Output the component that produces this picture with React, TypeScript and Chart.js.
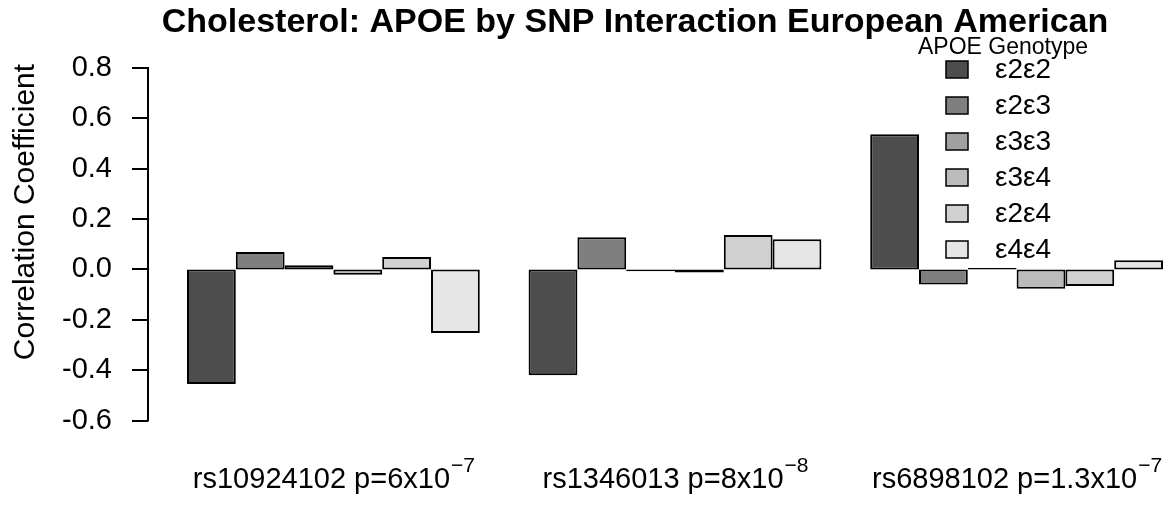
import { useEffect, useRef } from "react";
import { Chart, registerables } from "chart.js";

Chart.register(...registerables);

// SNPs on the x axis, with the exponent of each p-value kept apart so it can be set as a superscript
const snpLabels = ["rs10924102 p=6x10", "rs1346013 p=8x10", "rs6898102 p=1.3x10"];
const pExponents = ["\u22127", "\u22128", "\u22127"];

// APOE genotypes (one bar series each)
const genotypes = ["ε2ε2", "ε2ε3", "ε3ε3", "ε3ε4", "ε2ε4", "ε4ε4"];

// Correlation coefficient per SNP for each genotype
const e2e2 = [-0.455, -0.42, 0.537];
const e2e3 = [0.069, 0.128, -0.06];
const e3e3 = [0.017, -0.007, 0.006];
const e3e4 = [-0.021, -0.012, -0.077];
const e2e4 = [0.049, 0.137, -0.066];
const e4e4 = [-0.252, 0.12, 0.036];

const yTicks = [-0.6, -0.4, -0.2, 0.0, 0.2, 0.4, 0.6, 0.8];

const grays = ["#4D4D4D", "#7F7F7F", "#A0A0A0", "#BBBBBB", "#D1D1D1", "#E6E6E6"];

const FONT = "'Liberation Sans', Arial, Helvetica, sans-serif";
const TITLE = "Cholesterol: APOE by SNP Interaction European American";
const Y_TITLE = "Correlation Coefficient";
const LEGEND_TITLE = "APOE Genotype";

const CANVAS_W = 1200;
const CANVAS_H = 505;

// R-style decorations: detached y axis, title, axis title, superscripted x labels, legend
const rDecorations = {
  id: "rDecorations",
  afterDraw(chart: any) {
    const { ctx } = chart;
    const y = chart.scales.y;
    const x = chart.scales.x;
    ctx.save();
    ctx.fillStyle = "#000";
    ctx.strokeStyle = "#000";
    ctx.lineWidth = 2;

    // y axis line and tick marks
    const axisX = 148;
    const yTop = y.getPixelForValue(yTicks[yTicks.length - 1]);
    const yBot = y.getPixelForValue(yTicks[0]);
    ctx.beginPath();
    ctx.moveTo(axisX, yTop - 1);
    ctx.lineTo(axisX, yBot + 1);
    yTicks.forEach((v) => {
      const py = Math.round(y.getPixelForValue(v));
      ctx.moveTo(132, py);
      ctx.lineTo(axisX, py);
    });
    ctx.stroke();

    // plot title
    ctx.font = `bold 34px ${FONT}`;
    ctx.textAlign = "center";
    ctx.textBaseline = "alphabetic";
    ctx.fillText(TITLE, 635, 32);

    // y axis title
    ctx.save();
    ctx.translate(34, 212);
    ctx.rotate(-Math.PI / 2);
    ctx.font = `30px ${FONT}`;
    ctx.textAlign = "center";
    ctx.fillText(Y_TITLE, 0, 0);
    ctx.restore();

    // x category labels with superscript exponent
    ctx.textAlign = "left";
    snpLabels.forEach((lab, i) => {
      const cx = x.getPixelForValue(i);
      ctx.font = `29px ${FONT}`;
      const w1 = ctx.measureText(lab).width;
      ctx.font = `21px ${FONT}`;
      const w2 = ctx.measureText(pExponents[i]).width;
      const start = cx - (w1 + w2) / 2;
      ctx.font = `29px ${FONT}`;
      ctx.fillText(lab, start, 488);
      ctx.font = `21px ${FONT}`;
      ctx.fillText(pExponents[i], start + w1 + 1, 472);
    });

    // legend
    ctx.font = `23px ${FONT}`;
    ctx.textAlign = "center";
    ctx.fillText(LEGEND_TITLE, 1003, 54);
    ctx.textAlign = "left";
    ctx.textBaseline = "middle";
    ctx.lineWidth = 1.5;
    chart.data.datasets.forEach((ds: any, i: number) => {
      const cy = 69.5 + 36 * i;
      ctx.fillStyle = ds.backgroundColor;
      ctx.fillRect(946, cy - 8.5, 22, 17);
      ctx.strokeRect(946, cy - 8.5, 22, 17);
      ctx.fillStyle = "#000";
      ctx.font = `28px ${FONT}`;
      ctx.fillText(ds.label, 995, cy + 1);
    });
    ctx.restore();
  },
};

export default function App() {
  const canvasRef = useRef<HTMLCanvasElement | null>(null);

  useEffect(() => {
    if (!canvasRef.current) return;
    const series = [e2e2, e2e3, e3e3, e3e4, e2e4, e4e4];
    const chart = new Chart(canvasRef.current, {
      type: "bar",
      data: {
        labels: snpLabels,
        datasets: genotypes.map((g, i) => ({
          label: g,
          data: series[i],
          backgroundColor: grays[i],
          borderColor: "#000",
          borderWidth: 2,
          borderSkipped: false,
          barPercentage: 1,
          categoryPercentage: 6 / 7,
        })),
      },
      options: {
        responsive: false,
        animation: false,
        devicePixelRatio: 1,
        layout: { padding: { top: 67, right: 12.6, bottom: 0, left: 0 } },
        plugins: {
          legend: { display: false },
          title: { display: false },
          tooltip: { enabled: false },
        },
        scales: {
          x: {
            grid: { display: false },
            border: { display: false },
            ticks: { display: false },
            afterFit: (s: any) => {
              s.height = CANVAS_H - 420.5;
            },
          },
          y: {
            min: -0.6,
            max: 0.8,
            grid: { display: false, drawTicks: false },
            border: { display: false },
            afterBuildTicks: (s: any) => {
              s.ticks = yTicks.map((v) => ({ value: v }));
            },
            ticks: {
              padding: 50.6,
              color: "#000",
              font: { family: FONT, size: 29 },
              callback: (v: any) => (Math.abs(Number(v)) < 1e-9 ? "0.0" : Number(v).toFixed(1)),
            },
            afterFit: (s: any) => {
              s.width = 162.6;
            },
          },
        },
      },
      plugins: [rDecorations],
    });
    return () => chart.destroy();
  }, []);

  return (
    <div
      style={{
        position: "fixed",
        left: 0,
        top: 0,
        width: 1170,
        height: 505,
        overflow: "hidden",
        background: "#fff",
      }}
    >
      <canvas
        ref={canvasRef}
        width={CANVAS_W}
        height={CANVAS_H}
        style={{ display: "block", width: CANVAS_W, height: CANVAS_H }}
      />
    </div>
  );
}
